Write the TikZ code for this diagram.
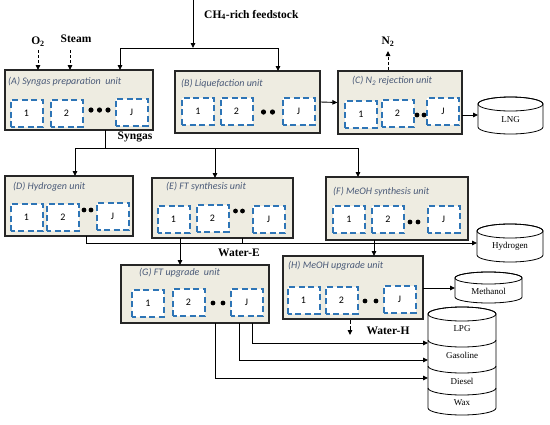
\documentclass[tikz,border=0pt]{standalone}
\usepackage{fontspec}
\setmainfont{Liberation Serif}
\newfontfamily\calib{Carlito}
\usetikzlibrary{arrows.meta,calc}
\definecolor{unitfill}{HTML}{EEECE1}
\definecolor{subblue}{HTML}{2E75B6}
\definecolor{titlec}{HTML}{4A5A78}
\newcommand\cylbody[5]{% L R top bottom ry
  \filldraw[fill=white, line width=0.8pt] (#1,#3+#5) -- (#1,#4-#5)
    arc[start angle=180, end angle=0, x radius={(#2-#1)/2}, y radius=#5] -- (#2,#3+#5)
    arc[start angle=0, end angle=-180, x radius={(#2-#1)/2}, y radius=#5] -- cycle;
  \draw[line width=0.8pt] ({(#1+#2)/2},#3+#5) ellipse[x radius={(#2-#1)/2}, y radius=#5];
}
\newcommand\sepline[4]{% L R y ry
  \draw[line width=0.8pt] (#1,#3) arc[start angle=180, end angle=0, x radius={(#2-#1)/2}, y radius=#4];
}
\begin{document}
\begin{tikzpicture}[x=1pt,y=-1pt,
  unitbox/.style={draw=black!85, line width=1.2pt, fill=unitfill, inner sep=0pt, rectangle},
  subbox/.style={draw=subblue, line width=2pt, dash pattern=on 6pt off 3.5pt, dash phase=2pt, fill=white,
     minimum width=32pt, minimum height=27pt, inner sep=0pt, font=\calib\fontsize{10}{11}\selectfont},
  ttl/.style={anchor=west, inner sep=0pt, font=\calib\itshape\fontsize{10}{11}\selectfont, text=titlec},
  conn/.style={line width=0.9pt, -{Triangle[length=5pt,width=4.5pt]}},
  plain/.style={line width=0.9pt},
  dconn/.style={conn, dash pattern=on 3pt off 2pt},
  lab/.style={inner sep=0pt, font=\bfseries\fontsize{11.5}{13}\selectfont},
  cyltext/.style={inner sep=0pt, font=\fontsize{9}{10}\selectfont},
  blob/.style={fill=black}
]
\useasboundingbox (0,0) rectangle (550,424);

% ---------- unit boxes ----------
\node[unitbox, minimum width=148pt, minimum height=60pt] (A) at (79,100) {};
\node[unitbox, minimum width=145pt, minimum height=62pt] (B) at (247.5,102) {};
\node[unitbox, minimum width=124pt, minimum height=63pt] (C) at (400,102.5) {};
\node[unitbox, minimum width=128pt, minimum height=60pt] (D) at (69,206) {};
\node[unitbox, minimum width=141pt, minimum height=60pt] (E) at (222.5,208) {};
\node[unitbox, minimum width=142pt, minimum height=63pt] (F) at (397,208.5) {};
\node[unitbox, minimum width=148pt, minimum height=58pt] (G) at (195,294) {};
\node[unitbox, minimum width=140pt, minimum height=63pt] (H) at (353,287.5) {};

% ---------- titles ----------
\node[ttl] (At) at (8,82) {(A) Syngas preparation\ \ unit};
\node[ttl] (Bt) at (181,84) {(B) Liquefaction unit};
\node[ttl] (Ct) at (352,81) {(C) N\textsubscript{2} rejection unit};
\node[ttl] (Dt) at (13,187) {(D) Hydrogen unit};
\node[ttl] (Et) at (166,187) {(E) FT synthesis unit};
\node[ttl] (Ft) at (333,192) {(F) MeOH synthesis unit};
\node[ttl] (Gt) at (139,273) {(G) FT upgrade\ \ unit};
\node[ttl] (Ht) at (288,266) {(H) MeOH upgrade unit};

% ---------- sub units ----------
\node[subbox] (A1) at (26.5,113.5) {1};
\node[subbox] (A2) at (66.5,113) {2};
\node[subbox] (AJ) at (131.5,112) {J};
\fill[blob] (91,110) circle[radius=2.6] (99.5,110) circle[radius=2.6] (108,110) circle[radius=2.6];

\node[subbox] (B1) at (198,111) {1};
\node[subbox] (B2) at (236.5,111) {2};
\node[subbox] (BJ) at (298.5,111) {J};
\fill[blob] (263.5,112) circle[radius=2.6] (272.5,112) circle[radius=2.6];

\node[subbox] (C1) at (361,114) {1};
\node[subbox] (C2) at (397.5,113.5) {2};
\node[subbox] (CJ) at (443,111.5) {J};
\fill[blob] (417,115) circle[radius=2.4] (424,115) circle[radius=2.4];

\node[subbox] (D1) at (26.5,217.5) {1};
\node[subbox] (D2) at (63,217) {2};
\node[subbox] (DJ) at (112.5,216.5) {J};
\fill[blob] (84,210) circle[radius=2.4] (91,210) circle[radius=2.4];

\node[subbox] (E1) at (173.5,219.5) {1};
\node[subbox] (E2) at (212.5,218) {2};
\node[subbox] (EJ) at (268.5,219.5) {J};
\fill[blob] (235.5,211) circle[radius=2.4] (242.5,211) circle[radius=2.4];

\node[subbox] (F1) at (349,219.5) {1};
\node[subbox] (F2) at (388,219.5) {2};
\node[subbox] (FJ) at (443.5,219) {J};
\fill[blob] (410,222) circle[radius=2.4] (418,222) circle[radius=2.4];

\node[subbox] (G1) at (148,303) {1};
\node[subbox] (G2) at (188.5,302.5) {2};
\node[subbox] (GJ) at (246.5,302.5) {J};
\fill[blob] (213,303) circle[radius=2.4] (223,303) circle[radius=2.4];

\node[subbox] (H1) at (303.5,300) {1};
\node[subbox] (H2) at (341.5,300) {2};
\node[subbox] (HJ) at (399.5,299) {J};
\fill[blob] (365,301) circle[radius=2.4] (376,301) circle[radius=2.4];

% ---------- storage cylinders ----------
\cylbody{478}{543}{97}{134}{7}
\node[cyltext] (LNG) at (510.5,120) {LNG};
\cylbody{477}{543}{224}{262}{7}
\node[cyltext] (Hyd) at (510,246) {Hydrogen};
\cylbody{455}{522}{272}{303}{6}
\node[cyltext] (MeOH) at (488.5,291) {Methanol};
\cylbody{428}{496}{307}{415}{7}
\sepline{428}{496}{340}{7}
\sepline{428}{496}{366}{7}
\sepline{428}{496}{388}{7}
\node[cyltext] (LPG) at (462,329) {LPG};
\node[cyltext] (Gas) at (462,355) {Gasoline};
\node[cyltext] (Die) at (462,381) {Diesel};
\node[cyltext] (Wax) at (462,403) {Wax};

% ---------- labels ----------
\node[lab, anchor=west] (feedlab) at (204,15) {CH\textsubscript{4}-rich feedstock};
\node[lab] (O2) at (38,42) {O\textsubscript{2}};
\node[lab] (Steam) at (76,39) {Steam};
\node[lab] (N2) at (388,42) {N\textsubscript{2}};
\node[lab] (Syn) at (135,137) {Syngas};
\node[lab] (WE) at (239,253) {Water-E};
\node[lab] (WH) at (388,331) {Water-H};

% ---------- junction coordinates ----------
\coordinate (feedtop) at (193,0);
\coordinate (split) at (193,48);
\coordinate (Ain) at (120,70);
\coordinate (Bin) at (278,71);
\coordinate (O2in) at (38,70);
\coordinate (Stin) at (70,70);
\coordinate (O2s) at (38,50);
\coordinate (Sts) at (70,50);
\coordinate (N2s) at (388,70);
\coordinate (N2e) at (388,51);
\coordinate (Aout) at (105,130);
\coordinate (syn) at (105,148);
\coordinate (synL) at (75,148);
\coordinate (synM) at (215,148);
\coordinate (synR) at (358,148);
\coordinate (Din) at (75,176);
\coordinate (Ein) at (215,178);
\coordinate (Fin) at (358,177);
\coordinate (Cout) at (462,115);
\coordinate (LNGin) at (478,115);
\coordinate (Dout) at (86,236);
\coordinate (wE) at (86,243);
\coordinate (Hydin) at (477,243);
\coordinate (Ew) at (242,238);
\coordinate (Ewj) at (242,243);
\coordinate (Eout) at (180,238);
\coordinate (Gin) at (180,265);
\coordinate (Fout) at (374,240);
\coordinate (Hin) at (374,256);
\coordinate (Hout) at (423,288);
\coordinate (MeOHin) at (455,288);
\coordinate (Hw) at (350,320);
\coordinate (Hwe) at (350,335);
\coordinate (G3) at (252,323);
\coordinate (G2) at (239,323);
\coordinate (G1) at (215,323);
\coordinate (LPGin) at (428,343);
\coordinate (Gasin) at (428,360);
\coordinate (Diein) at (428,378);

% ---------- connectors ----------
\draw[conn] (feedtop) -- (split);
\draw[conn] (split) -| (Ain);
\draw[conn] (split) -| (Bin);
\draw[dconn] (O2s) -- (O2in);
\draw[dconn] (Sts) -- (Stin);
\draw[dconn] (N2s) -- (N2e);
\draw[conn] (B.east) -- (C.west);
\draw[conn] (Cout) -- (LNGin);
\draw[plain] (Aout) -- (syn);
\draw[plain] (synL) -- (synR);
\draw[conn] (synL) -- (Din);
\draw[conn] (synM) -- (Ein);
\draw[conn] (synR) -- (Fin);
\draw[conn] (Dout) |- (Hydin);
\draw[plain] (Ew) -- (Ewj);
\draw[conn] (Eout) -- (Gin);
\draw[conn] (Fout) -- (Hin);
\draw[conn] (Hout) -- (MeOHin);
\draw[conn, dash pattern=on 4pt off 2pt] (Hw) -- (Hwe);
\draw[conn] (G3) |- (LPGin);
\draw[conn] (G2) |- (Gasin);
\draw[conn] (G1) |- (Diein);
\end{tikzpicture}
\end{document}
